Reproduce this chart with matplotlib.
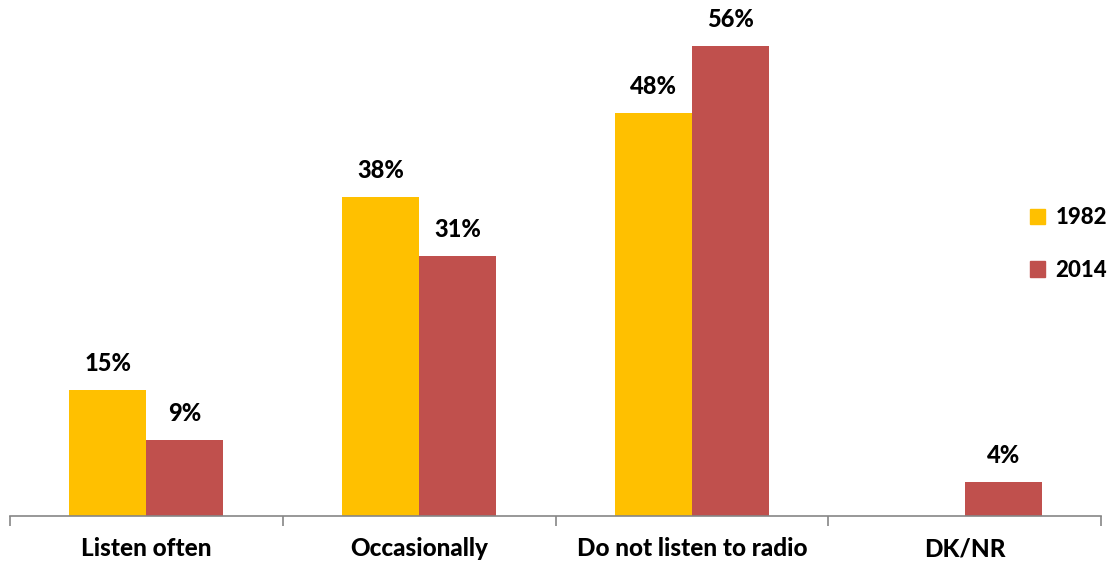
import matplotlib
matplotlib.use("Agg")
import matplotlib.pyplot as plt
import numpy as np
from matplotlib.patches import Rectangle

categories = ["Listen often", "Occasionally", "Do not listen to radio", "DK/NR"]
series_names = ["1982", "2014"]
values_1982 = [15, 38, 48, 0]
values_2014 = [9, 31, 56, 4]
colors = ["#FFC000", "#C0504D"]

plt.rcParams['font.family'] = ['Lato', 'DejaVu Sans']
FW = 'black'

fig = plt.figure(figsize=(11.10, 5.62), dpi=100)
ax = fig.add_axes([10/1110, 46/562, 1091/1110, 506/562])

x = np.arange(len(categories))
w = 0.282
for i, (vals, col) in enumerate(zip([values_1982, values_2014], colors)):
    offs = -w/2 if i == 0 else w/2
    for xi, v in zip(x, vals):
        if v <= 0:
            continue
        ax.bar(xi + offs, v, width=w, color=col, edgecolor='none')
        ax.annotate(f"{v}%", (xi + offs, v), xytext=(0, 11), textcoords='offset points',
                    ha='center', va='bottom', fontsize=17, fontweight=FW, color='black')

ax.set_xlim(-0.5, 3.5)
ax.set_ylim(0, 60.3)
for s in ['top', 'right', 'left']:
    ax.spines[s].set_visible(False)
ax.spines['bottom'].set_color('#868686')
ax.spines['bottom'].set_linewidth(1.2)
ax.set_yticks([])
ax.set_xticks(np.arange(-0.5, 3.6, 1.0))
ax.set_xticklabels([])
ax.tick_params(axis='x', direction='out', length=7, width=1.2, color='#868686')
for xi, c in zip(x, categories):
    ax.text(xi, -33/506, c, transform=ax.get_xaxis_transform(), ha='center', va='center',
            fontsize=17.5, fontweight=FW)

# legend
handles = [Rectangle((0, 0), 1, 1, color=c) for c in colors]
leg = fig.legend(handles, series_names, loc='center left', bbox_to_anchor=(1021/1110, 1 - 244/562),
                 frameon=False, prop={'size': 16, 'weight': FW}, handlelength=0.7,
                 handleheight=0.7, handletextpad=0.45, labelspacing=1.4, borderaxespad=0)

fig.savefig("out.png", dpi=100)
